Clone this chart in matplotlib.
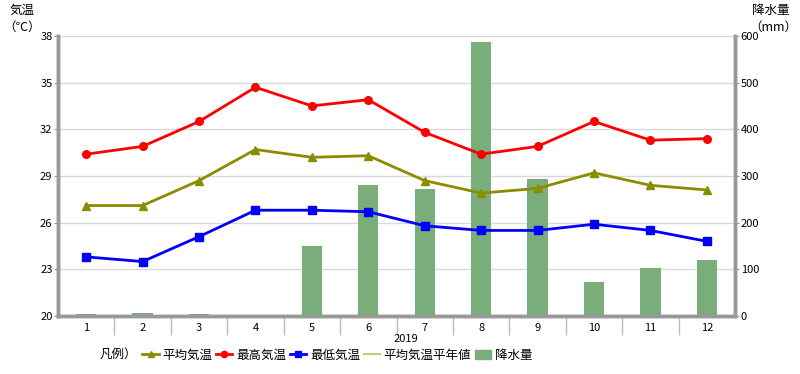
import matplotlib.pyplot as plt
from matplotlib.lines import Line2D
from matplotlib.patches import Patch

plt.rcParams['font.family'] = ['Noto Sans CJK JP', 'DejaVu Sans']

# data
months = [1, 2, 3, 4, 5, 6, 7, 8, 9, 10, 11, 12]
month_labels = [str(m) for m in months]
avg_temp = [27.1, 27.1, 28.7, 30.7, 30.2, 30.3, 28.7, 27.9, 28.2, 29.2, 28.4, 28.1]
max_temp = [30.4, 30.9, 32.5, 34.7, 33.5, 33.9, 31.8, 30.4, 30.9, 32.5, 31.3, 31.4]
min_temp = [23.8, 23.5, 25.1, 26.8, 26.8, 26.7, 25.8, 25.5, 25.5, 25.9, 25.5, 24.8]
rain = [5, 7, 4, 0, 150, 281, 272, 586, 293, 73, 102, 121]

temp_ticks = [20, 23, 26, 29, 32, 35, 38]
rain_ticks = [0, 100, 200, 300, 400, 500, 600]

axis_grey = '#999999'
grid_grey = '#d9d9d9'

fig = plt.figure(figsize=(8, 3.74), dpi=100)
ax = fig.add_axes([0.0725, 0.155, 0.8463, 0.749])
ax2 = ax.twinx()

# bars on the right axis, behind the temperature lines
ax.set_zorder(ax2.get_zorder() + 1)
ax.patch.set_visible(False)

ax2.bar(months, rain, width=0.36, color='#79ad79', zorder=2)
ax2.set_ylim(0, 600)
ax2.set_yticks(rain_ticks)
ax2.yaxis.grid(True, color=grid_grey, linewidth=1)
ax2.set_axisbelow(True)

ax.plot(months, avg_temp, color='#8c8c00', marker='^', markersize=6, linewidth=2)
ax.plot(months, max_temp, color='#ff0000', marker='o', markersize=5.5, linewidth=2)
ax.plot(months, min_temp, color='#0000ff', marker='s', markersize=5.5, linewidth=2)
ax.set_ylim(20, 38)
ax.set_yticks(temp_ticks)
ax.set_xlim(0.5, 12.5)
ax.set_xticks(months)
ax.set_xticklabels(month_labels)
ax.set_xticks([m + 0.5 for m in months[:-1]], minor=True)

for a in (ax, ax2):
    a.spines['top'].set_visible(False)
    for s in ('left', 'right', 'bottom'):
        a.spines[s].set_color(axis_grey)
        a.spines[s].set_linewidth(2.5)
    a.tick_params(axis='y', labelsize=8, length=3, color=axis_grey, pad=1)
ax.tick_params(axis='x', which='major', length=0, labelsize=8, pad=5)
ax.tick_params(axis='x', which='minor', length=14, color='#bbbbbb', width=1)

fig.text(0.508, 0.085, '2019', ha='center', fontsize=8)
fig.text(0.012, 0.99, '気温', fontsize=9, va='top')
fig.text(0.004, 0.945, '（℃）', fontsize=9, va='top')
fig.text(0.94, 0.99, '降水量', fontsize=9, va='top')
fig.text(0.937, 0.945, '（mm）', fontsize=9, va='top')

handles = [
    Line2D([], [], color='#8c8c00', marker='^', markersize=5, linewidth=2),
    Line2D([], [], color='#ff0000', marker='o', markersize=4.5, linewidth=2),
    Line2D([], [], color='#0000ff', marker='s', markersize=4.5, linewidth=2),
    Line2D([], [], color='#c8c878', linewidth=1.5),
    Patch(color='#79ad79'),
]
labels = ['平均気温', '最高気温', '最低気温', '平均気温平年値', '降水量']
fig.text(0.125, 0.05, '凡例）', fontsize=9, va='center')
fig.legend(handles, labels, loc='center left', bbox_to_anchor=(0.178, 0.05),
           ncol=5, frameon=False, fontsize=9, handlelength=1.3, handletextpad=0.3,
           columnspacing=0.3, borderaxespad=0, borderpad=0)

fig.savefig('out.png', dpi=100)
